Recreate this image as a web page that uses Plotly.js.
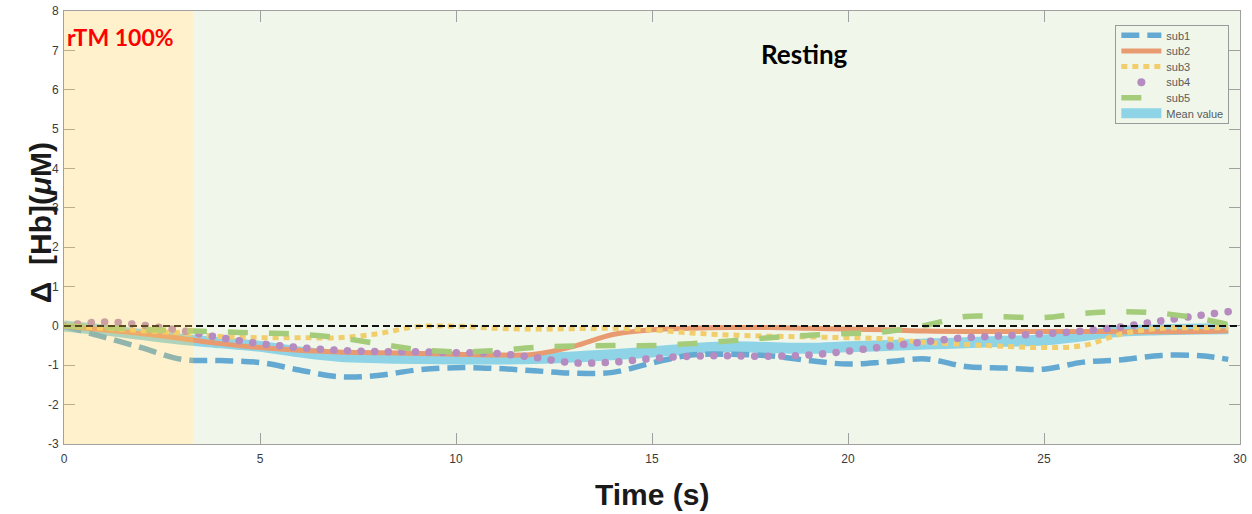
<!DOCTYPE html>
<html>
<head>
<meta charset="utf-8">
<script src="https://cdn.plot.ly/plotly-3.0.1.min.js"></script>
<style>
  html, body { margin: 0; padding: 0; background: #ffffff; }
  #chart { width: 1252px; height: 514px; }
  /* round caps turn the short dashes of the sub4 trace into dots */
  .tracesub4 path.js-line { stroke-linecap: round !important; }
</style>
</head>
<body>
<div id="chart"></div>
<script>
// time axis (s)
const time = [0, 1, 2, 3, 4, 5, 6, 7, 8, 9, 10, 11, 12, 13, 14, 15, 16, 17, 18, 19, 20, 21, 22, 23, 24, 25, 26, 27, 28, 29, 29.7];

// Δ[Hb] per subject (μM)
const sub1 = [0, -0.28, -0.56, -0.85, -0.88, -0.93, -1.12, -1.29, -1.26, -1.12, -1.06, -1.08, -1.14, -1.2, -1.18, -0.94, -0.74, -0.72, -0.76, -0.88, -0.97, -0.91, -0.84, -1.03, -1.07, -1.1, -0.92, -0.86, -0.75, -0.76, -0.85];
const sub2 = [0, -0.1, -0.2, -0.32, -0.45, -0.55, -0.62, -0.66, -0.68, -0.7, -0.72, -0.74, -0.72, -0.52, -0.22, -0.1, -0.06, -0.04, -0.04, -0.06, -0.08, -0.1, -0.13, -0.14, -0.14, -0.14, -0.14, -0.15, -0.15, -0.14, -0.12];
const sub3 = [0, -0.06, -0.12, -0.18, -0.27, -0.3, -0.3, -0.3, -0.2, -0.02, -0.01, -0.06, -0.08, -0.07, -0.06, -0.1, -0.18, -0.23, -0.26, -0.28, -0.3, -0.33, -0.42, -0.47, -0.52, -0.55, -0.5, -0.2, -0.06, -0.05, -0.05];
const sub4 = [0, 0.1, 0.02, -0.12, -0.3, -0.45, -0.55, -0.62, -0.65, -0.66, -0.68, -0.7, -0.8, -0.94, -0.92, -0.83, -0.77, -0.76, -0.77, -0.74, -0.64, -0.52, -0.4, -0.3, -0.25, -0.2, -0.13, -0.02, 0.13, 0.27, 0.36];
const sub5 = [0, -0.04, -0.09, -0.12, -0.15, -0.18, -0.21, -0.3, -0.45, -0.6, -0.66, -0.63, -0.55, -0.51, -0.5, -0.5, -0.45, -0.38, -0.3, -0.24, -0.19, -0.14, 0.02, 0.24, 0.23, 0.21, 0.32, 0.36, 0.32, 0.18, 0.03];
const meanValue = [0, -0.1, -0.22, -0.34, -0.43, -0.52, -0.66, -0.77, -0.81, -0.83, -0.84, -0.84, -0.83, -0.79, -0.73, -0.66, -0.58, -0.53, -0.55, -0.57, -0.53, -0.5, -0.46, -0.43, -0.39, -0.36, -0.25, -0.13, -0.1, -0.08, -0.07];

// stimulation window and resting window (s)
const stimEnd = 3.3;
const timeMax = 30;
const yRange = [-3, 8];
const xTicks = [0, 5, 10, 15, 20, 25, 30];
const yTicks = [-3, -2, -1, 0, 1, 2, 3, 4, 5, 6, 7, 8];

const C = {
  sub1: '#63a9d1',
  sub2: '#e89a70',
  sub3: '#f1cd6b',
  sub4: '#b58bc0',
  sub5: '#a4cc7b',
  mean: '#8fd4e6'
};

const traces = [
  { x: time, y: meanValue, name: 'Mean value', mode: 'lines', legendrank: 6,
    line: { color: C.mean, width: 11, shape: 'spline' } },
  { x: time, y: sub1, name: 'sub1', mode: 'lines', legendrank: 1,
    line: { color: C.sub1, width: 5.5, dash: '18px,8px', shape: 'spline' } },
  { x: time, y: sub2, name: 'sub2', mode: 'lines', legendrank: 2,
    line: { color: C.sub2, width: 5, shape: 'spline' } },
  { x: time, y: sub3, name: 'sub3', mode: 'lines', legendrank: 3,
    line: { color: C.sub3, width: 5, dash: '6px,5px', shape: 'spline' } },
  { x: time, y: sub4, name: 'sub4', uid: 'sub4', mode: 'lines', showlegend: false,
    line: { color: C.sub4, width: 7.5, dash: '0.1px,13.5px', shape: 'spline' } },
  { x: [null], y: [null], name: 'sub4', mode: 'markers', legendrank: 4,
    marker: { color: C.sub4, size: 8 } },
  { x: time, y: sub5, name: 'sub5', mode: 'lines', legendrank: 5,
    line: { color: C.sub5, width: 5.5, dash: '20px,21px', shape: 'spline' } }
];

const axisColor = '#a0a0a0';
const tickFont = { family: 'Liberation Sans, Arial, sans-serif', size: 12, color: '#3a3a3a' };

const layout = {
  width: 1252, height: 514,
  margin: { l: 64, r: 12, t: 11, b: 70 },
  paper_bgcolor: '#ffffff',
  plot_bgcolor: '#ffffff',
  showlegend: true,
  xaxis: {
    range: [0, timeMax], tickvals: xTicks, ticktext: xTicks.map(String),
    ticks: 'inside', ticklen: 11, tickcolor: axisColor, tickwidth: 1,
    showline: true, linecolor: axisColor, linewidth: 1, mirror: 'ticks',
    showgrid: false, zeroline: false, tickfont: tickFont, ticklabelstandoff: 4
  },
  yaxis: {
    range: yRange, tickvals: yTicks, ticktext: yTicks.map(String),
    ticks: 'inside', ticklen: 11, tickcolor: axisColor, tickwidth: 1,
    showline: true, linecolor: axisColor, linewidth: 1, mirror: 'ticks',
    showgrid: false, zeroline: false, tickfont: tickFont, ticklabelstandoff: 2
  },
  legend: {
    x: 0.894, y: 0.968, xanchor: 'left', yanchor: 'top',
    bgcolor: 'rgba(255,255,255,0)', bordercolor: '#9a9a9a', borderwidth: 1,
    font: { family: 'Liberation Sans, Arial, sans-serif', size: 11, color: '#5a5a5a' },
    itemwidth: 40, tracegroupgap: 0, traceorder: 'normal'
  },
  shapes: [
    // resting window background
    { type: 'rect', xref: 'x', yref: 'y', x0: stimEnd, x1: timeMax, y0: yRange[0], y1: yRange[1],
      fillcolor: '#f0f7ea', line: { width: 0 }, layer: 'below' },
    // baseline
    { type: 'line', xref: 'x', yref: 'y', x0: 0, x1: timeMax, y0: 0, y1: 0,
      line: { color: '#111111', width: 2, dash: '7px,4px' }, layer: 'above' },
    // stimulation window, translucent over the traces
    { type: 'rect', xref: 'x', yref: 'y', x0: 0, x1: stimEnd, y0: yRange[0], y1: yRange[1],
      fillcolor: 'rgba(252,208,85,0.3)', line: { width: 0 }, layer: 'above' }
  ],
  annotations: [
    { text: '<b>rTM 100%</b>', xref: 'x', yref: 'y', x: 0.03, y: 7.33,
      xanchor: 'left', yanchor: 'middle', showarrow: false,
      font: { family: 'Lato, Open Sans, sans-serif', size: 23, color: '#ff0000' } },
    { text: '<b>Resting</b>', xref: 'x', yref: 'y', x: 18.9, y: 6.92,
      xanchor: 'center', yanchor: 'middle', showarrow: false,
      font: { family: 'Lato, Open Sans, sans-serif', size: 26, color: '#000000' } },
    { text: '<b>Time (s)</b>', xref: 'paper', yref: 'paper', x: 0.5, y: -0.1155,
      xanchor: 'center', yanchor: 'middle', showarrow: false,
      font: { family: 'Liberation Sans, Arial, sans-serif', size: 30, color: '#1a1a1a' } },
    { text: '<b>Δ  [Hb](<i>μ</i>M)</b>', xref: 'paper', yref: 'paper', x: -0.0204, y: 0.51,
      xanchor: 'center', yanchor: 'middle', showarrow: false, textangle: -90,
      font: { family: 'Liberation Sans, Arial, sans-serif', size: 30, color: '#1a1a1a' } }
  ]
};

// compact legend rows (15.6 px per entry), tighter top and bottom padding
const legendRowStep = 15.6;
const legendTopLift = 5;
const legendBottomTrim = 10;

Plotly.newPlot('chart', traces, layout, { displayModeBar: false, staticPlot: true }).then(() => {
  const leg = document.querySelector('#chart .legend');
  if (!leg) return;
  const rows = Array.from(leg.querySelectorAll('g.traces'));
  const parsed = rows.map(g => {
    const m = /translate\(\s*([-\d.]+)[ ,]+([-\d.]+)\s*\)/.exec(g.getAttribute('transform') || '');
    return { g, x: m ? +m[1] : 0, y: m ? +m[2] : 0 };
  }).sort((a, b) => a.y - b.y);
  if (!parsed.length) return;
  const y0 = parsed[0].y - legendTopLift;
  const oldSpan = parsed[parsed.length - 1].y - parsed[0].y;
  parsed.forEach((p, i) => p.g.setAttribute('transform', `translate(${p.x},${y0 + i * legendRowStep})`));
  const shrink = oldSpan - (parsed.length - 1) * legendRowStep + legendBottomTrim;
  const bg = leg.querySelector('rect.bg');
  if (bg) bg.setAttribute('height', (+bg.getAttribute('height')) - shrink);
});
</script>
</body>
</html>
